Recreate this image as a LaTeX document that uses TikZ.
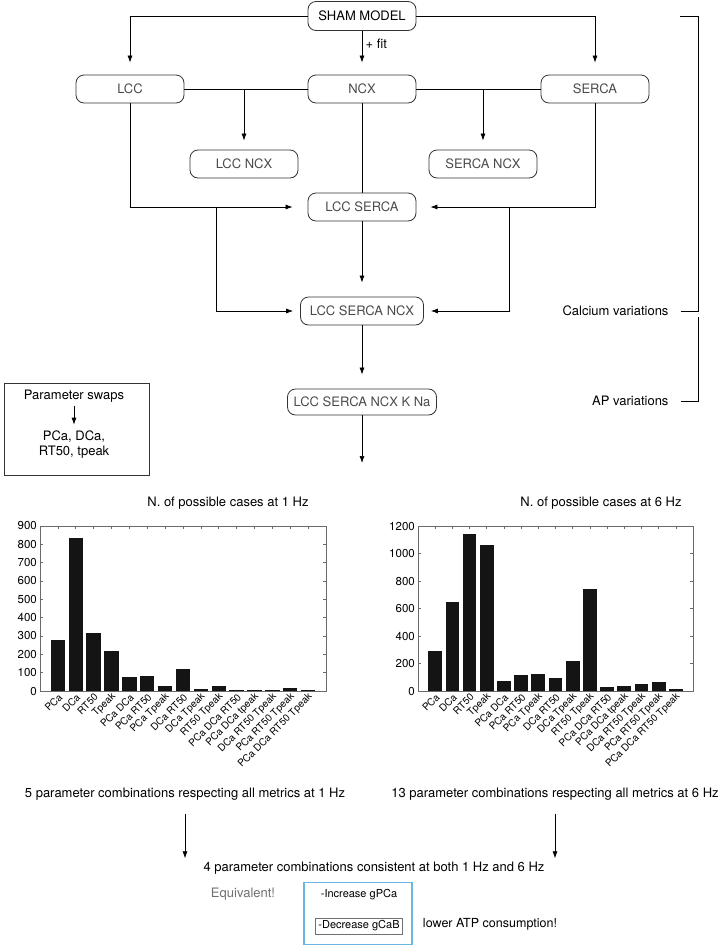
\documentclass[tikz,border=0pt]{standalone}
\usepackage{fontspec}
\setmainfont{TeX Gyre Heros}
\usetikzlibrary{arrows.meta, positioning}
\definecolor{boxgray}{HTML}{4A4A4A}
\definecolor{linegray}{HTML}{333333}
\definecolor{axisgray}{HTML}{6A6A6A}
\definecolor{lightblue}{HTML}{6CB6E2}
\definecolor{softgray}{HTML}{707070}

\begin{document}
\begin{tikzpicture}[x=1pt, y=-1pt,
        model/.style={rectangle, draw=linegray, rounded corners=8pt, align=center, minimum width=108pt, minimum height=28pt, text=boxgray, line width=0.8pt, font=\fontsize{13}{15}\selectfont},
        plain/.style={font=\fontsize{13}{15}\selectfont},
        arrow/.style={-{Latex[length=7pt,width=5pt]}, line width=0.7pt, shorten >=12pt},
        link/.style={line width=0.7pt},
        barfill/.style={fill=black!92},
        frame/.style={draw=axisgray, line width=0.6pt},
        ticklab/.style={font=\fontsize{11.5}{13}\selectfont, anchor=east, inner sep=1pt},
        case/.style={font=\fontsize{10}{12}\selectfont, rotate=45, anchor=east, inner sep=0.5pt}
        ]
        \useasboundingbox (0,0) rectangle (723,946);

        % Nodes
        \node (sham) [model, text=black, minimum height=29pt] at (362,16) {SHAM MODEL};
        \node (lcc) [model] at (130,89) {LCC};
        \node (ncx) [model] at (362,89) {NCX};
        \node (serca) [model] at (595,89) {SERCA};
        \node (lccncx) [model] at (244,164) {LCC NCX};
        \node (sercancx) [model] at (483,164) {SERCA NCX};
        \node (lccserca) [model] at (362,207) {LCC SERCA};
        \node (lccsercancx) [model, minimum width=123pt] at (362,311) {LCC SERCA NCX};
        \node (full) [model, minimum width=149pt, minimum height=26pt] at (362,402) {LCC SERCA NCX K Na};
        \coordinate (split) at (362,463);
        \coordinate (tapl) at (216,207);
        \coordinate (tapr) at (509,207);

        \node (calcium) [plain, anchor=east] at (672,311) {Calcium variations};
        \node (apvar) [plain, anchor=east] at (672,401) {AP variations};
        \coordinate (brtop) at (680,16);

        \node (swapbox) [draw=linegray, line width=0.8pt, minimum width=145pt, minimum height=92pt] at (76.5,429) {};
        \node (swaps) [plain] at (74,396) {Parameter swaps};
        \node (metrics) [plain, align=center] at (74,445) {PCa, DCa,\\RT50, tpeak};

        % Arrows
        \draw [arrow] (sham.west) -| (lcc);
        \draw [arrow] (sham.east) -| (serca);
        \draw [arrow] (sham) -- node[pos=0.3, right, plain] {+ fit} (ncx);
        \draw [link] (lcc) -- (ncx);
        \draw [link] (ncx) -- (serca);
        \draw [arrow, shorten >=9pt] (lcc.east -| lccncx) -- (lccncx);
        \draw [arrow, shorten >=9pt] (ncx.east -| sercancx) -- (sercancx);
        \draw [link] (ncx) -- (lccserca);
        \draw [arrow, shorten >=15pt] (lcc.south) |- (lccserca.west);
        \draw [arrow, shorten >=14pt] (serca.south) |- (lccserca.east);
        \draw [arrow, shorten >=7pt] (tapl) |- (lccsercancx.west);
        \draw [arrow, shorten >=7pt] (tapr) |- (lccsercancx.east);
        \draw [arrow, shorten >=14pt] (lccserca) -- (lccsercancx);
        \draw [arrow, shorten >=14pt] (lccsercancx) -- (full);
        \draw [arrow, shorten >=0pt] (full) -- (split);
        \draw [arrow, shorten >=3pt] (swaps) -- (metrics);

        % Bracket
        \draw [link] (brtop) -| ([xshift=26pt]calcium.east) -- ([xshift=9pt]calcium.east);
        \draw [link] ([xshift=26pt, yshift=-6pt]calcium.east) |- ([xshift=9pt]apvar.east);

        % Chart at 1 Hz
        \node (title1) [plain] at (228,503) {N. of possible cases at 1 Hz};
        \foreach \v [count=\i] in {278,835,318,220,75,83,25,120,12,28,5,6,7,16,4}
            \fill [barfill] ({40+\i*17.875-7.15},691) rectangle ({40+\i*17.875+7.15},{691-\v*0.18333});
        \draw [frame] (40,526) rectangle (326,691);
        \foreach \t in {0,100,...,900} {
            \draw [frame] (40,{691-\t*0.18333}) -- ++(3,0);
            \draw [frame] (326,{691-\t*0.18333}) -- ++(-3,0);
            \node (ya\t) [ticklab] at (38,{691-\t*0.18333}) {\t};
        }
        \foreach \lab [count=\i] in {PCa, DCa, RT50, Tpeak, PCa DCa, PCa RT50, PCa Tpeak, DCa RT50, DCa Tpeak, RT50 Tpeak, PCa DCa RT50, PCa DCa tpeak, DCa RT50 Tpeak, PCa RT50 Tpeak, PCa DCa RT50 Tpeak} {
            \draw [frame] ({40+\i*17.875},526) -- ++(0,3);
            \node (xa\i) [case] at ({40+\i*17.875+3},695) {\lab};
        }

        % Chart at 6 Hz
        \node (title2) [plain] at (601,503) {N. of possible cases at 6 Hz};
        \foreach \v [count=\i] in {290,650,1140,1065,72,113,127,97,217,745,31,36,51,63,14}
            \fill [barfill] ({418+\i*17.1875-6.875},691) rectangle ({418+\i*17.1875+6.875},{691-\v*0.1375});
        \draw [frame] (418,526) rectangle (693,691);
        \foreach \t in {0,200,...,1200} {
            \draw [frame] (418,{691-\t*0.1375}) -- ++(3,0);
            \draw [frame] (693,{691-\t*0.1375}) -- ++(-3,0);
            \node (yb\t) [ticklab] at (416,{691-\t*0.1375}) {\t};
        }
        \foreach \lab [count=\i] in {PCa, DCa, RT50, Tpeak, PCa DCa, PCa RT50, PCa Tpeak, DCa RT50, DCa Tpeak, RT50 Tpeak, PCa DCa RT50, PCa DCa tpeak, DCa RT50 Tpeak, PCa RT50 Tpeak, PCa DCa RT50 Tpeak} {
            \draw [frame] ({418+\i*17.1875},526) -- ++(0,3);
            \node (xb\i) [case] at ({418+\i*17.1875+3},695) {\lab};
        }

        % Results
        \node (res1) [plain] at (185,794) {5 parameter combinations respecting all metrics at 1 Hz};
        \node (res2) [plain] at (555,794) {13 parameter combinations respecting all metrics at 6 Hz};
        \node (both) [plain] at (374,868) {4 parameter combinations consistent at both 1 Hz and 6 Hz};
        \draw [arrow, shorten >=0pt] ([yshift=-10pt]res1.south) -- (res1.south |- both.north);
        \draw [arrow, shorten >=0pt] ([yshift=-10pt]res2.south) -- (res2.south |- both.north);

        \node (equiv) [plain, text=softgray] at (243,894) {Equivalent!};
        \node (choice) [draw=lightblue, line width=1.2pt, minimum width=108pt, minimum height=62pt] at (358,913.5) {};
        \node (incr) [font=\fontsize{11}{13}\selectfont] at (359,895) {-Increase gPCa};
        \node (decr) [draw=softgray, line width=0.7pt, minimum width=87pt, minimum height=16pt, inner sep=1pt, font=\fontsize{11}{13}\selectfont] at (359,926) {-Decrease gCaB};
        \node (atp) [font=\fontsize{12.5}{14}\selectfont] at (490,924) {lower ATP consumption!};

    \end{tikzpicture}
\end{document}
